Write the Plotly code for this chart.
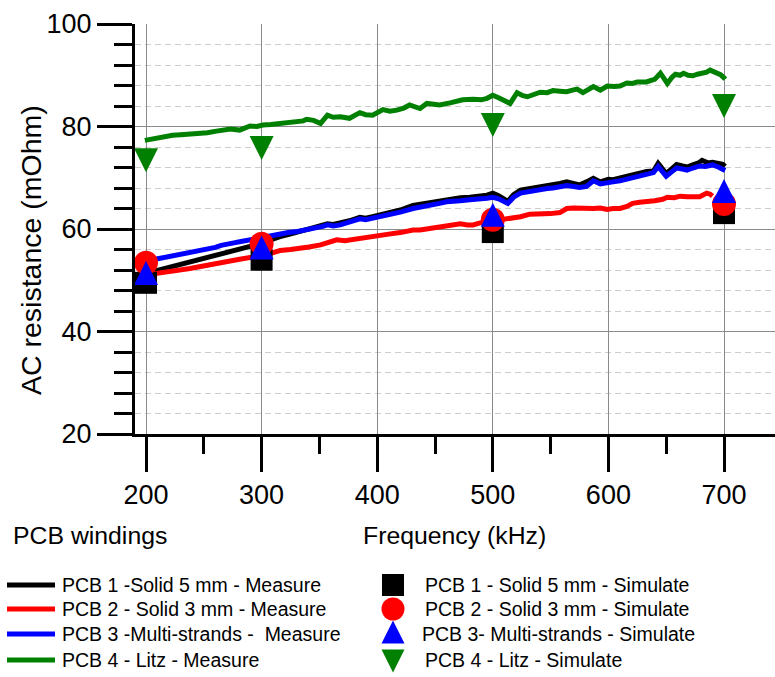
import plotly.graph_objects as go

# ---------------- data ----------------
# PCB 1 - Solid 5 mm - Measure (black)
freq_m1 = [199, 206, 212, 218, 223, 230, 238, 245, 253, 260, 267, 274, 281, 290, 299, 306, 316, 323, 331, 340,
           348, 353, 357, 362, 368, 376, 385, 390, 396, 402, 410, 415, 420, 431, 437, 445, 454, 460, 472, 480,
           489, 495, 500, 505, 513, 518, 524, 530, 541, 547, 552, 558, 564, 570, 575, 581, 587, 593, 600, 604,
           610, 619, 627, 633, 639, 643, 647, 650, 655, 659, 664, 668, 673, 678, 681, 686, 690, 695, 699, 701]
res_m1 = [51.3, 51.7, 52.1, 52.4, 52.7, 53.0, 53.4, 53.9, 54.5, 54.9, 55.3, 55.6, 56.0, 56.6, 57.2, 57.8, 58.5, 58.9, 59.4, 59.9,
          60.3, 60.7, 61.0, 60.9, 61.1, 61.6, 62.3, 62.1, 62.4, 62.7, 63.1, 63.3, 63.7, 64.6, 64.8, 65.1, 65.5, 65.8, 66.1, 66.2,
          66.3, 66.6, 67.0, 66.5, 65.4, 66.7, 67.6, 67.8, 68.3, 68.5, 68.6, 68.9, 69.2, 68.9, 68.6, 69.2, 69.9, 69.2, 69.7, 69.6,
          70.0, 70.4, 70.9, 71.2, 71.3, 72.8, 71.8, 70.8, 71.8, 72.6, 72.3, 72.1, 72.5, 72.9, 73.4, 72.9, 73.0, 72.8, 72.6, 72.2]

# PCB 2 - Solid 3 mm - Measure (red)
freq_m2 = [199, 206, 212, 218, 223, 230, 238, 245, 253, 260, 267, 274, 281, 290, 299, 305, 310, 316, 325, 333,
           341, 351, 358, 365, 372, 380, 385, 393, 402, 410, 420, 431, 437, 445, 454, 460, 466, 472, 478, 483,
           489, 495, 501, 507, 512, 518, 524, 532, 541, 550, 558, 561, 564, 570, 575, 581, 587, 593, 599, 604,
           610, 616, 621, 627, 633, 640, 647, 651, 657, 662, 668, 673, 679, 685, 688, 690]
res_m2 = [51.0, 51.2, 51.4, 51.6, 51.7, 52.0, 52.3, 52.6, 53.0, 53.3, 53.6, 53.8, 54.1, 54.4, 54.7, 55.0, 55.4, 55.8, 56.0, 56.2,
          56.5, 56.9, 57.4, 57.9, 57.7, 58.0, 58.2, 58.5, 58.9, 59.0, 59.3, 59.8, 59.8, 60.1, 60.3, 60.7, 60.9, 61.0, 60.8, 60.8,
          61.2, 61.4, 61.6, 61.8, 62.0, 62.1, 62.4, 62.9, 62.9, 63.0, 63.2, 63.7, 64.0, 64.1, 64.0, 64.1, 64.0, 64.1, 63.8, 64.0,
          64.0, 64.4, 65.0, 65.2, 65.3, 65.5, 65.8, 66.2, 66.1, 66.4, 66.3, 66.4, 66.3, 67.0, 66.8, 66.4]

# PCB 3 - Multi-strands - Measure (blue)
freq_m3 = [199, 206, 212, 218, 225, 232, 238, 245, 253, 260, 265, 270, 276, 281, 290, 299, 306, 316, 323, 331,
           340, 348, 353, 357, 362, 368, 376, 385, 390, 396, 402, 410, 415, 420, 431, 437, 445, 454, 460, 466,
           472, 480, 489, 495, 500, 505, 513, 518, 524, 530, 541, 547, 552, 558, 564, 570, 575, 581, 587, 593,
           600, 604, 610, 619, 627, 633, 639, 643, 647, 650, 655, 659, 664, 668, 673, 679, 684, 690, 695, 699, 701]
res_m3 = [53.7, 54.0, 54.3, 54.5, 54.8, 55.3, 55.4, 55.7, 56.0, 56.4, 56.8, 57.1, 57.3, 57.5, 57.9, 58.2, 58.6, 59.2, 59.3, 59.5,
          59.9, 60.1, 60.5, 60.8, 60.6, 60.8, 61.3, 62.0, 61.8, 62.1, 62.4, 62.8, 62.9, 63.3, 64.0, 64.2, 64.6, 65.0, 65.3, 65.3,
          65.5, 65.7, 65.8, 66.0, 66.2, 65.9, 65.0, 66.2, 67.0, 67.3, 67.7, 67.9, 68.0, 68.2, 68.5, 68.3, 68.1, 68.3, 69.4, 68.8,
          69.2, 69.2, 69.4, 69.9, 70.4, 70.8, 71.0, 72.2, 71.2, 70.3, 71.2, 71.9, 71.7, 71.5, 71.9, 72.3, 72.2, 72.5, 72.1, 71.7, 71.4]

# PCB 4 - Litz - Measure (green)
freq_m4 = [199, 206, 212, 218, 223, 230, 238, 245, 253, 261, 267, 273, 281, 286, 290, 296, 301, 308, 316, 323,
           331, 336, 339, 345, 351, 357, 362, 368, 376, 385, 390, 396, 405, 411, 417, 423, 428, 433, 437, 443,
           448, 454, 463, 468, 474, 483, 490, 495, 500, 505, 509, 515, 521, 526, 530, 536, 541, 547, 552, 558,
           564, 569, 573, 578, 583, 587, 593, 599, 605, 610, 616, 621, 625, 629, 633, 637, 640, 645, 648, 651,
           655, 658, 662, 665, 669, 673, 677, 682, 685, 688, 692, 697, 700, 701]
res_m4 = [77.3, 77.6, 77.9, 78.0, 78.3, 78.4, 78.5, 78.6, 78.8, 79.1, 79.2, 79.5, 79.3, 79.7, 80.1, 80.0, 80.3, 80.4, 80.6, 80.7,
          80.9, 81.1, 81.4, 81.2, 80.6, 82.2, 81.8, 81.9, 81.6, 82.7, 82.3, 82.2, 83.3, 83.0, 83.2, 83.6, 84.2, 83.9, 83.5, 84.5,
          84.3, 84.2, 84.6, 84.9, 85.2, 85.3, 85.2, 85.5, 86.1, 85.6, 85.2, 84.5, 86.6, 86.0, 85.8, 86.4, 86.7, 86.6, 87.0, 86.9,
          86.8, 87.1, 87.3, 86.6, 87.4, 87.8, 87.1, 87.9, 87.8, 87.9, 88.5, 88.4, 88.7, 88.6, 88.7, 89.0, 89.2, 90.4, 89.4, 88.4,
          89.6, 90.2, 90.0, 90.4, 90.0, 89.9, 90.2, 90.4, 90.6, 91.0, 90.6, 90.1, 89.5, 89.2]

# Simulated points
sim_freq = [200, 300, 500, 700]
sim_pcb1 = [49.5, 54.0, 59.4, 63.1]
sim_pcb2 = [53.4, 57.1, 61.8, 64.9]
sim_pcb3 = [51.4, 56.4, 62.8, 67.4]
sim_pcb4 = [73.4, 75.8, 80.3, 84.0]

x_tick_step = 100
y_tick_step = 20

measure_names = ["PCB 1 -Solid 5 mm - Measure",
                 "PCB 2 - Solid 3 mm - Measure",
                 "PCB 3 -Multi-strands - \u00a0Measure",
                 "PCB 4 - Litz - Measure"]
simulate_names = ["PCB 1 - Solid 5 mm - Simulate",
                  "PCB 2 - Solid 3 mm - Simulate",
                  "PCB 3- Multi-strands - Simulate",
                  "PCB 4 - Litz - Simulate"]
colors = ["#000000", "#ff0000", "#0000ff", "#008000"]

# ---------------- layout constants ----------------
W, H = 775, 677
PLOT_L, PLOT_T, PLOT_B = 135, 24, 434
FONT = "Arial, 'Liberation Sans', sans-serif"

# marker styles (triangles built as centered arrows)
marker_styles = [
    dict(symbol="square", size=22, angle=0, standoff=0),
    dict(symbol="circle", size=24, angle=0, standoff=0),
    dict(symbol="arrow-down", size=24, angle=180, standoff=12),
    dict(symbol="arrow-down", size=24, angle=0, standoff=12),
]
legend_marker_styles = [
    dict(symbol="square", size=22, angle=0, standoff=0),
    dict(symbol="circle", size=23, angle=0, standoff=0),
    dict(symbol="arrow-down", size=23, angle=180, standoff=11.5),
    dict(symbol="arrow-down", size=23, angle=0, standoff=11.5),
]

fig = go.Figure()

measures = [(freq_m1, res_m1), (freq_m2, res_m2), (freq_m3, res_m3), (freq_m4, res_m4)]
for (fx, ry), col, nm in zip(measures, colors, measure_names):
    fig.add_trace(go.Scatter(x=fx, y=ry, mode="lines", name=nm, showlegend=False,
                             line=dict(color=col, width=5), xaxis="x", yaxis="y"))

sims = [sim_pcb1, sim_pcb2, sim_pcb3, sim_pcb4]
for ry, col, nm, ms in zip(sims, colors, simulate_names, marker_styles):
    fig.add_trace(go.Scatter(x=sim_freq, y=ry, mode="markers", name=nm, showlegend=False,
                             marker=dict(color=col, line=dict(width=0), **ms),
                             cliponaxis=False, xaxis="x", yaxis="y"))

# ---------------- custom legend (pixel-coordinate overlay axes) ----------------
LEG_ROWS = [585, 609, 634, 660]
LEG_MARKER_ROWS = [585, 609, 632, 661]
LEG_LINE_X = (7, 55)
LEG_TEXT_LEFT = 60
LEG_MARKER_X = 393
LEG_TEXT_RIGHT = [423, 423, 420, 423]

for i in range(4):
    fig.add_trace(go.Scatter(x=list(LEG_LINE_X), y=[LEG_ROWS[i]] * 2, mode="lines",
                             line=dict(color=colors[i], width=5), showlegend=False,
                             hoverinfo="skip", xaxis="x2", yaxis="y2"))
    fig.add_trace(go.Scatter(x=[LEG_MARKER_X], y=[LEG_MARKER_ROWS[i]], mode="markers",
                             marker=dict(color=colors[i], line=dict(width=0), **legend_marker_styles[i]),
                             showlegend=False, hoverinfo="skip", xaxis="x2", yaxis="y2"))

annotations = []
for i in range(4):
    annotations.append(dict(x=LEG_TEXT_LEFT, y=LEG_ROWS[i], xref="x2", yref="y2", text=measure_names[i],
                            showarrow=False, xanchor="left", yanchor="middle",
                            font=dict(family=FONT, size=19.5, color="black")))
    annotations.append(dict(x=LEG_TEXT_RIGHT[i], y=LEG_ROWS[i], xref="x2", yref="y2", text=simulate_names[i],
                            showarrow=False, xanchor="left", yanchor="middle",
                            font=dict(family=FONT, size=19.5, color="black")))

annotations += [
    dict(x=31, y=250, xref="x2", yref="y2", text="AC resistance (mOhm)", textangle=-90,
         showarrow=False, xanchor="center", yanchor="middle",
         font=dict(family=FONT, size=28.5, color="black")),
    dict(x=11, y=535, xref="x2", yref="y2", text="PCB windings", showarrow=False,
         xanchor="left", yanchor="middle", font=dict(family=FONT, size=24.8, color="black")),
    dict(x=454, y=535, xref="x2", yref="y2", text="Frequency (kHz)", showarrow=False,
         xanchor="center", yanchor="middle", font=dict(family=FONT, size=24.8, color="black")),
]

x_px_per_unit = (724 - 146) / 500.0
x_lo = 200 - (146 - PLOT_L) / x_px_per_unit
x_hi = 700 + (W - 724) / x_px_per_unit

axis_common = dict(showline=True, linewidth=3, linecolor="black", ticks="outside", tickwidth=3,
                   tickcolor="black", ticklen=35, zeroline=False, showgrid=True,
                   gridcolor="#8a8a8a", gridwidth=1, automargin=False,
                   tickfont=dict(family=FONT, size=27, color="black"))

fig.update_layout(
    template="none",
    width=W, height=H,
    margin=dict(l=0, r=0, t=0, b=0, pad=0),
    paper_bgcolor="white", plot_bgcolor="rgba(0,0,0,0)",
    showlegend=False,
    xaxis=dict(domain=[PLOT_L / W, 1], range=[x_lo, x_hi], anchor="y",
               tick0=0, dtick=x_tick_step,
               minor=dict(ticks="outside", ticklen=17, tickwidth=3, tickcolor="black",
                          dtick=50, tick0=0, showgrid=False),
               **axis_common),
    yaxis=dict(domain=[(H - PLOT_B) / H, (H - PLOT_T) / H], range=[20, 100], anchor="x",
               tick0=0, dtick=y_tick_step,
               minor=dict(ticks="outside", ticklen=18, tickwidth=3, tickcolor="black",
                          dtick=4, tick0=0, showgrid=True, gridcolor="#cdcdcd",
                          griddash="6px,4px", gridwidth=1),
               **axis_common),
    xaxis2=dict(domain=[0, 1], range=[0, W], anchor="y2", visible=False, fixedrange=True,
                automargin=False),
    yaxis2=dict(domain=[0, 1], range=[H, 0], anchor="x2", visible=False, fixedrange=True,
                automargin=False),
    annotations=annotations,
)

fig.write_html("out.html", config={"displayModeBar": False})
